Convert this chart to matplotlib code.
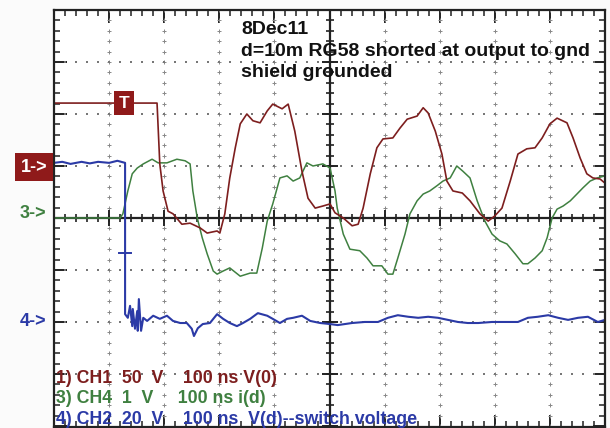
import numpy as np
import matplotlib
matplotlib.use("Agg")
import matplotlib.pyplot as plt

plt.rcParams['font.family'] = ['Liberation Sans', 'DejaVu Sans']

# time in ns (100 ns/div), level in screen divisions from centre
t_ch1 = [0, 187, 192, 198, 207, 216, 232, 247, 265, 278, 296, 301, 310, 319, 329, 338, 350, 361, 374,
         387, 397, 414, 425, 437, 450, 461, 474, 488, 501, 510, 525, 541, 552, 561, 574, 586, 597, 615,
         628, 641, 659, 670, 679, 692, 704, 713, 724, 741, 755, 773, 788, 800, 813, 828, 842, 858, 873,
         886, 900, 913, 931, 942, 955, 967, 978, 991, 1000]
v_ch1 = [2.21, 2.21, 1.04, 0.52, 0.13, 0.08, -0.12, -0.10, -0.19, -0.29, -0.25, -0.29, 0.08, 0.77, 1.35,
         1.81, 2.00, 1.87, 1.83, 2.06, 2.19, 2.10, 2.19, 1.67, 0.90, 0.38, 0.19, 0.23, 0.27, 0.10, 0.00,
         -0.15, -0.12, 0.19, 0.85, 1.35, 1.52, 1.54, 1.73, 1.90, 1.96, 2.12, 2.02, 1.67, 1.23, 0.71, 0.52,
         0.48, 0.33, 0.08, -0.06, 0.04, 0.19, 0.71, 1.23, 1.33, 1.35, 1.54, 1.81, 1.92, 1.83, 1.54, 1.15,
         0.85, 0.77, 0.75, 0.67]

t_ch4 = [0, 120, 125, 134, 142, 151, 162, 178, 189, 205, 223, 238, 247, 252, 260, 269, 278, 289, 296,
         307, 319, 338, 356, 368, 378, 387, 397, 410, 423, 434, 446, 459, 470, 488, 501, 510, 514, 525,
         537, 555, 568, 579, 595, 606, 615, 624, 637, 646, 659, 670, 682, 695, 706, 719, 731, 742, 755,
         768, 782, 795, 809, 822, 837, 851, 860, 873, 886, 895, 904, 913, 924, 937, 949, 960, 973, 986, 1000]
v_ch4 = [0, 0, 0.08, 0.52, 0.85, 0.96, 1.04, 1.13, 1.06, 1.06, 1.13, 1.10, 1.04, 0.52, 0.00, -0.38,
         -0.69, -1.02, -1.08, -1.02, -0.96, -1.12, -1.06, -1.06, -0.58, -0.06, 0.27, 0.77, 0.81, 0.71,
         0.77, 1.06, 1.00, 1.04, 0.96, 0.52, 0.19, -0.31, -0.60, -0.63, -0.77, -0.92, -0.92, -1.08, -1.08,
         -0.77, -0.31, 0.08, 0.33, 0.46, 0.52, 0.62, 0.71, 0.77, 1.00, 0.90, 0.77, 0.33, -0.06, -0.31,
         -0.44, -0.50, -0.69, -0.88, -0.88, -0.77, -0.63, -0.38, 0.00, 0.17, 0.23, 0.33, 0.46, 0.58,
         0.71, 0.77, 0.81]

t_ch2 = [0, 15, 30, 50, 65, 80, 100, 115, 129, 129, 134, 138, 142, 143, 147, 151, 152, 154, 158, 162,
         169, 180, 192, 205, 216, 229, 241, 250, 254, 261, 270, 283, 296, 307, 319, 332, 343, 356, 370,
         387, 397, 410, 423, 434, 450, 465, 483, 501, 515, 541, 564, 588, 606, 624, 643, 661, 679, 697,
         715, 733, 751, 770, 795, 819, 842, 860, 878, 897, 915, 933, 951, 969, 987, 1000]
v_ch2 = [1.06, 1.08, 1.04, 1.08, 1.05, 1.08, 1.06, 1.10, 1.06, -1.85, -1.92, -1.69, -2.08, -1.75, -2.13,
         -1.79, -2.17, -1.56, -2.17, -1.92, -1.98, -1.88, -1.94, -1.88, -1.98, -2.02, -2.02, -2.13,
         -2.27, -2.12, -2.04, -2.02, -1.85, -1.94, -2.02, -2.08, -2.02, -1.94, -1.83, -1.88, -1.94,
         -2.02, -1.94, -1.92, -1.88, -1.98, -2.02, -2.04, -2.06, -2.02, -2.00, -2.00, -1.92, -1.87,
         -1.90, -1.92, -1.90, -1.92, -1.96, -2.00, -2.02, -2.02, -2.00, -2.00, -2.00, -1.92, -1.90,
         -1.87, -1.92, -1.96, -1.92, -1.90, -2.00, -1.96]

legend_lines = ["1) CH1  50  V    100 ns V(0)",
                "3) CH4  1  V     100 ns i(d)",
                "4) CH2  20  V    100 ns  V(d)--switch voltage"]
title_lines = ["8Dec11", "d=10m RG58 shorted at output to gnd", "shield grounded"]

red = '#7d1e1e'
green = '#3f8040'
blue = '#2b3aa6'
box_red = '#8f1a1a'

fig = plt.figure(figsize=(6.1, 4.28), dpi=100)
fig.patch.set_facecolor('#fbfbfb')
ax = fig.add_axes([54/610, 1/428, 551/610, 417/428])
ax.set_facecolor('white')
ax.set_xlim(0, 1000)
ax.set_ylim(-4.02, 3.98)

# dotted graticule
for k in range(1, 10):
    if k == 5:
        continue
    ax.plot([k*100]*41, np.arange(-4, 4.01, 0.2), ls='none', marker='+', ms=3, mew=0.7, color='#888888')
for k in [-3, -2, -1, 1, 2, 3]:
    ax.plot(np.arange(0, 1001, 20), [k]*51, ls='none', marker='s', ms=1.6, mew=0, color='#777777')

# centre crosshair with ticks
ax.axhline(0, color='#222222', lw=1.6)
ax.axvline(500, color='#222222', lw=1.6)
ax.plot(np.arange(0, 1001, 20), [0]*51, ls='none', marker='|', ms=6, mew=1.2, color='#222222')
ax.plot(np.arange(0, 1001, 100), [0]*11, ls='none', marker='|', ms=11, mew=1.4, color='#222222')
ax.plot([500]*41, np.arange(-4, 4.01, 0.2), ls='none', marker='_', ms=6, mew=1.2, color='#222222')
ax.plot([500]*9, np.arange(-4, 4.01, 1), ls='none', marker='_', ms=11, mew=1.4, color='#222222')

ax.set_xticks(np.arange(0, 1001, 100))
ax.set_xticks(np.arange(0, 1001, 20), minor=True)
ax.set_yticks(np.arange(-4, 4.01, 1))
ax.set_yticks(np.arange(-4, 4.01, 0.2), minor=True)
ax.tick_params(which='major', direction='in', length=9, width=1.4, top=True, right=True,
               labelbottom=False, labelleft=False, color='#222222')
ax.tick_params(which='minor', direction='in', length=4.5, width=1.1, top=True, right=True, color='#222222')
for s in ax.spines.values():
    s.set_linewidth(1.6)
    s.set_color('#222222')

# traces
ax.plot(t_ch4, v_ch4, color=green, lw=1.1)
ax.plot(t_ch1, v_ch1, color=red, lw=1.2)
ax.plot(t_ch2, v_ch2, color=blue, lw=1.5)
ax.plot([118, 140], [-0.67, -0.67], color=blue, lw=1.4)

# trigger marker
ax.text(127, 2.21, "T", color='white', fontsize=12.5, fontweight='bold', ha='center', va='center',
        bbox=dict(boxstyle='square,pad=0.25', fc=box_red, ec='none'))

# channel markers outside the axes
fig.text(34/610, 1 - 167/428, "1->", color='white', fontsize=13, fontweight='bold', ha='center', va='center',
         bbox=dict(boxstyle='square,pad=0.3', fc=box_red, ec='none'))
fig.text(33/610, 1 - 214/428, "3->", color=green, fontsize=13, fontweight='bold', ha='center', va='center')
fig.text(33/610, 1 - 322/428, "4->", color=blue, fontsize=13, fontweight='bold', ha='center', va='center')

for i, s in enumerate(title_lines):
    ax.text(340, 3.62 - i*0.41, s, color='#111111', fontsize=14, fontweight='bold', ha='left', va='center')

for s, c, y in zip(legend_lines, [red, green, blue], [-3.08, -3.48, -3.87]):
    ax.text(4, y, s, color=c, fontsize=12.8, fontweight='bold', ha='left', va='center')

fig.savefig("out.png", dpi=100, facecolor=fig.get_facecolor())
